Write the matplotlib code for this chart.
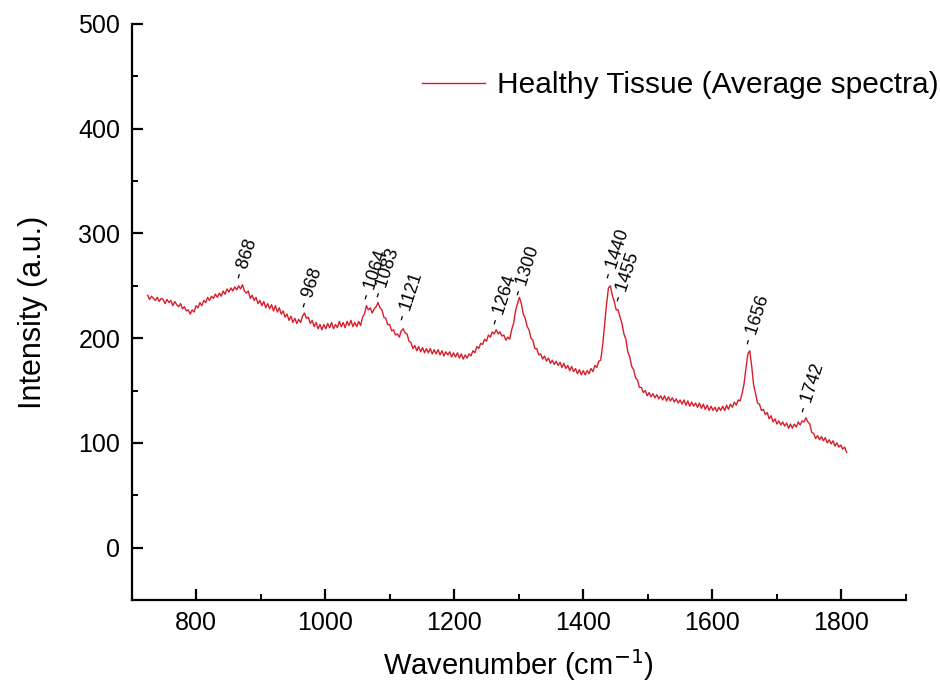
import numpy as np
import matplotlib
matplotlib.use("Agg")
import matplotlib.pyplot as plt
from matplotlib.ticker import MultipleLocator

plt.rcParams['font.family'] = ['Liberation Sans', 'DejaVu Sans']

# Raman spectrum of healthy tissue, sampled every 3 cm^-1 from 725 to 1808
wavenumber = np.arange(725, 1809, 3)
intensity = [
    241, 237, 240, 238, 236, 239, 235, 238, 237, 233,   # 725
    237, 234, 236, 231, 235, 232, 230, 233, 228, 230,   # 755
    226, 227, 223, 227, 225, 231, 229, 234, 231, 236,   # 785
    234, 239, 236, 240, 238, 242, 239, 243, 240, 245,   # 815
    242, 247, 244, 248, 245, 249, 246, 250, 247, 251,   # 845
    245, 243, 245, 238, 241, 236, 239, 233, 236, 231,   # 875
    235, 229, 233, 228, 232, 226, 231, 225, 229, 223,   # 905
    226, 220, 223, 217, 221, 215, 219, 214, 218, 215,   # 935
    221, 224, 219, 220, 214, 217, 211, 215, 209, 213,   # 965
    208, 213, 209, 214, 210, 215, 209, 213, 210, 216,   # 995
    211, 215, 210, 216, 212, 217, 211, 215, 211, 216,   # 1025
    212, 220, 223, 231, 227, 229, 224, 228, 230, 234,   # 1055
    229, 227, 220, 219, 213, 213, 207, 208, 203, 204,   # 1085
    201, 207, 209, 205, 204, 197, 196, 190, 193, 188,   # 1115
    192, 187, 191, 186, 190, 186, 190, 185, 189, 185,   # 1145
    189, 184, 188, 183, 187, 184, 187, 182, 186, 182,   # 1175
    186, 181, 185, 180, 184, 181, 185, 183, 188, 186,   # 1205
    192, 190, 195, 194, 199, 197, 203, 201, 206, 204,   # 1235
    208, 204, 206, 202, 203, 198, 201, 199, 208, 214,   # 1265
    226, 233, 239, 233, 223, 219, 211, 208, 200, 198,   # 1295
    190, 190, 184, 185, 180, 183, 178, 181, 176, 179,   # 1325
    175, 178, 174, 177, 172, 176, 171, 174, 169, 173,   # 1355
    168, 171, 166, 170, 165, 169, 165, 169, 166, 171,   # 1385
    168, 174, 172, 178, 179, 193, 212, 232, 248, 250,   # 1415
    241, 235, 227, 227, 220, 214, 204, 199, 187, 182,   # 1445
    173, 170, 162, 160, 153, 153, 148, 150, 145, 148,   # 1475
    144, 147, 143, 146, 142, 145, 141, 145, 140, 144,   # 1505
    140, 143, 139, 142, 138, 141, 137, 141, 136, 140,   # 1535
    135, 139, 135, 138, 134, 138, 133, 137, 132, 136,   # 1565
    131, 135, 131, 134, 130, 134, 131, 135, 131, 136,   # 1595
    132, 137, 134, 139, 136, 141, 140, 147, 156, 171,   # 1625
    185, 188, 173, 155, 147, 138, 137, 131, 132, 127,   # 1655
    129, 123, 126, 120, 123, 118, 121, 117, 120, 116,   # 1685
    119, 114, 118, 114, 118, 115, 120, 117, 121, 120,   # 1715
    124, 120, 118, 110, 109, 104, 107, 103, 106, 102,   # 1745
    105, 100, 103, 99, 102, 97, 100, 96, 98, 94,        # 1775
    96, 91,                                              # 1805
]

# Band assignments: label, position (cm^-1), height of the label anchor
peak_labels = ['868', '968', '1064', '1083', '1121', '1264', '1300',
               '1440', '1455', '1656', '1742']
peak_pos = [868, 968, 1064, 1083, 1121, 1264, 1300, 1440, 1455, 1656, 1742]
peak_text_y = [257, 229, 237, 239, 217, 213, 241, 257, 235, 194, 129]

series_name = 'Healthy Tissue (Average spectra)'
line_color = '#d81e2a'

fig = plt.figure(figsize=(9.4, 6.89), dpi=100)
ax = fig.add_axes([0.1399, 0.1292, 0.8239, 0.8360])

ax.plot(wavenumber, intensity, color=line_color, lw=1.0, label=series_name)

for lab, x, y in zip(peak_labels, peak_pos, peak_text_y):
    ax.text(x, y, '- ' + lab, rotation=72, rotation_mode='anchor',
            ha='left', va='center', fontsize=13, color='black')

ax.set_xlim(700, 1900)
ax.set_ylim(-50, 500)
ax.xaxis.set_major_locator(MultipleLocator(200))
ax.xaxis.set_minor_locator(MultipleLocator(100))
ax.yaxis.set_major_locator(MultipleLocator(100))
ax.yaxis.set_minor_locator(MultipleLocator(50))

for side in ('top', 'right'):
    ax.spines[side].set_visible(False)
for side in ('left', 'bottom'):
    ax.spines[side].set_linewidth(1.6)

ax.tick_params(which='major', direction='in', length=8, width=1.6, labelsize=18)
ax.tick_params(which='minor', direction='in', length=4, width=1.4)
ax.tick_params(axis='x', which='major', pad=8)
ax.tick_params(axis='y', which='major', pad=8)

ax.set_xlabel('Wavenumber (cm$^{-1}$)', fontsize=21, labelpad=9)
ax.set_ylabel('Intensity (a.u.)', fontsize=22, labelpad=22)

ax.legend(loc='center left', bbox_to_anchor=(0.375, 0.894), frameon=False,
          fontsize=21.5, handlelength=2.1, handletextpad=0.4,
          borderpad=0, borderaxespad=0)

fig.savefig('out.png', dpi=100)
